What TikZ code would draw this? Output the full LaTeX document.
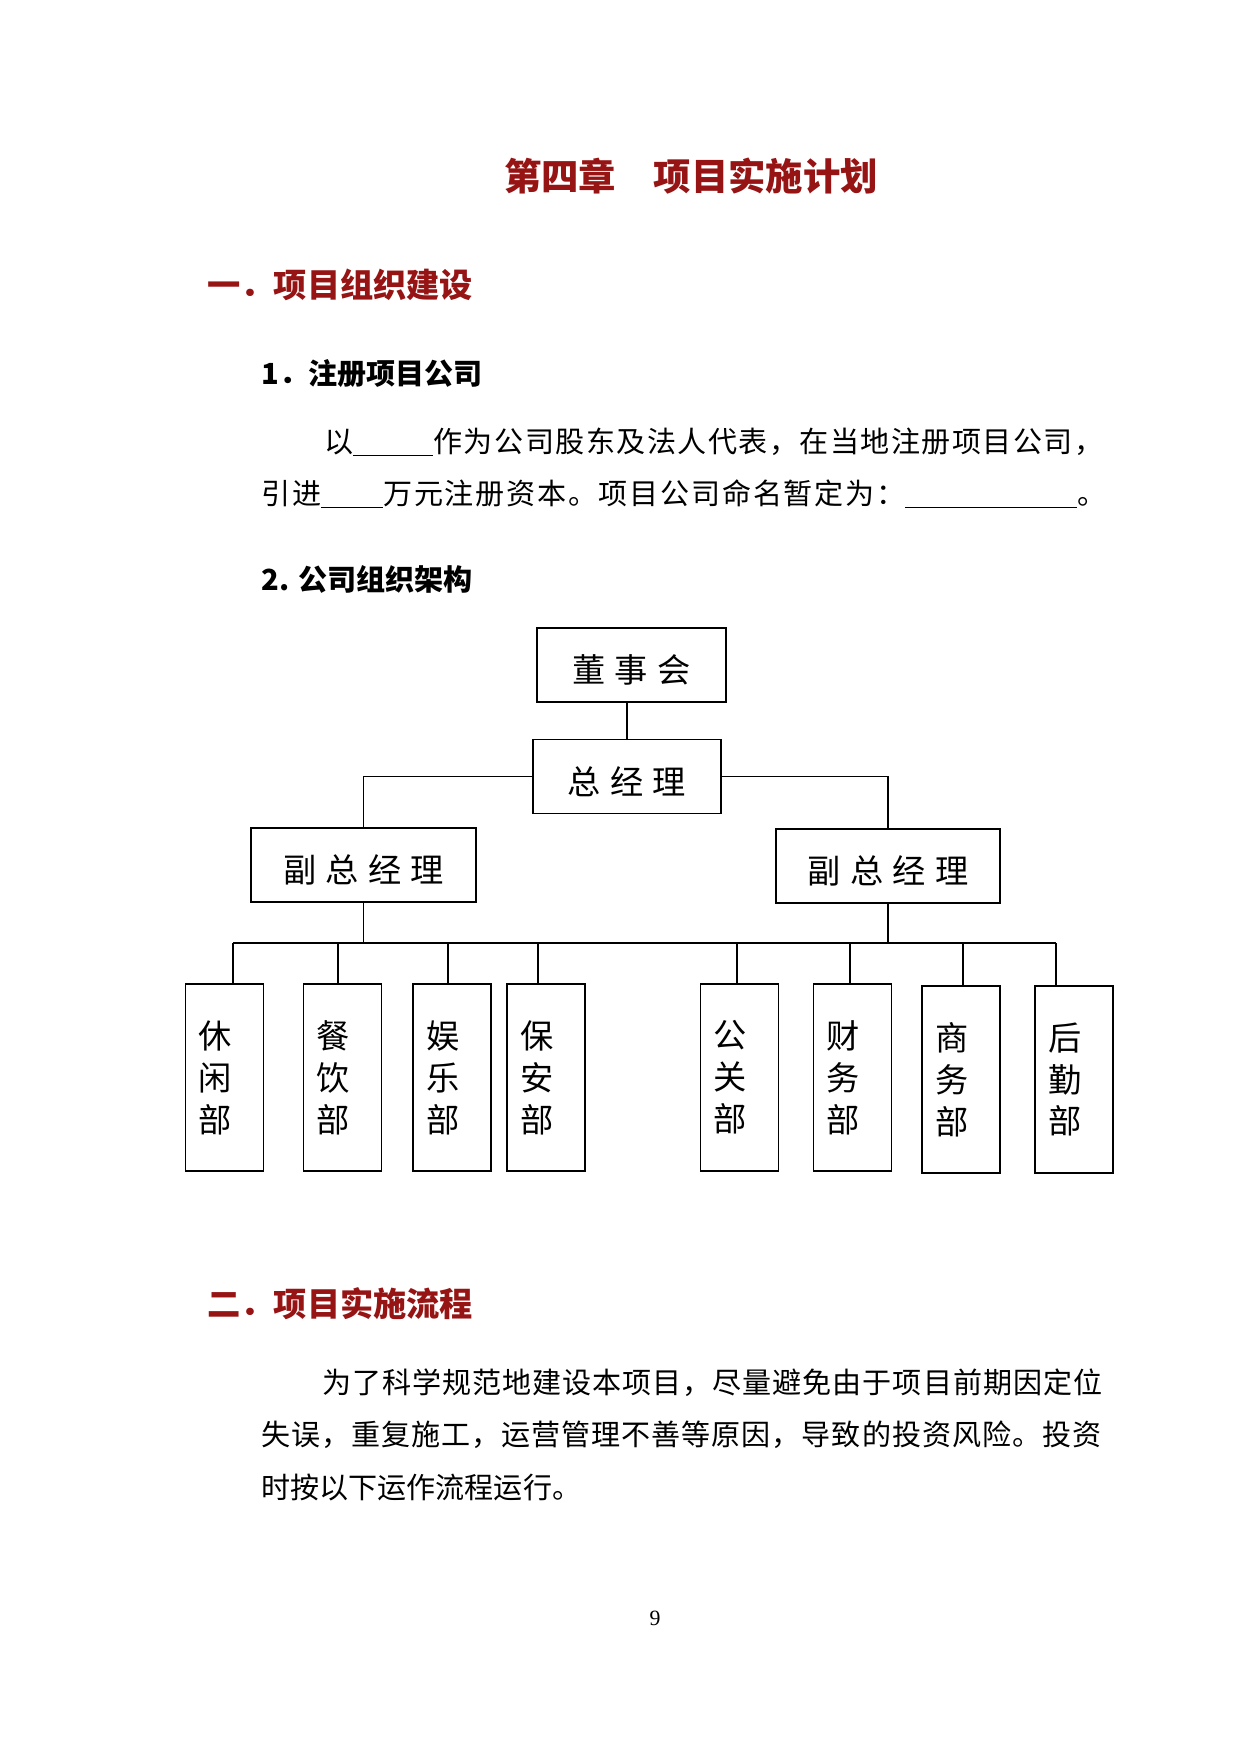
\documentclass[tikz,border=0pt]{standalone}
\usepackage{fontspec}
\setmainfont{Noto Sans CJK SC}
\newfontfamily\numfont{Liberation Serif}
\usepackage{tikz}
\usetikzlibrary{positioning, calc}
\definecolor{TitleRed}{RGB}{150,20,20}
\newlength\pxu
\setlength\pxu{0.16925mm}
\newcommand\sz[2]{\fontsize{#1}{#2}\selectfont}
\newcommand\ls[1]{\addfontfeature{LetterSpace=#1}}

\begin{document}
\begin{tikzpicture}[x=0.16925mm, y=-0.16925mm, font=\sz{14pt}{17pt},
	txt/.style={inner sep=0pt, anchor=west},
	chief/.style={draw, line width=0.9pt, inner sep=0pt, minimum height=74\pxu,
		text height=17pt, text depth=0pt, font=\sz{16pt}{19pt}\ls{28}},
	dept/.style={draw, line width=0.9pt, minimum width=78\pxu, minimum height=187\pxu,
		inner ysep=0pt, inner xsep=13\pxu, text width=52\pxu, align=left,
		font=\sz{16pt}{20.2pt}},
	link/.style={line width=0.6pt},
	bus/.style={line width=1.2pt}]
	\useasboundingbox (0,0) rectangle (1241,1754);
	% titulos
	\node[inner sep=0pt, font=\sz{18pt}{22pt}\bfseries, text=TitleRed] (title) at (691,176) {第四章\quad 项目实施计划};
	\node[txt, font=\sz{16pt}{20pt}\bfseries, text=TitleRed] (h1) at (207,285) {一．项目组织建设};
	\node[txt, font=\sz{14pt}{17pt}\bfseries] (s1) at (261,374) {1．注册项目公司};
	\node[txt, font=\sz{14pt}{17pt}\ls{5}] (p1a) at (324,442) {以\underline{\hspace{80\pxu}}作为公司股东及法人代表，在当地注册项目公司，};
	\node[txt, font=\sz{14pt}{17pt}\ls{6}] (p1b) at (261,494) {引进\underline{\hspace{62\pxu}}万元注册资本。项目公司命名暂定为：\underline{\hspace{172\pxu}}。};
	\node[txt, font=\sz{14pt}{17pt}\bfseries] (s2) at (261,579) {2. 公司组织架构};
	% organigrama
	\node[chief, minimum width=189\pxu] (dsh) at (631.5,665) {董事会};
	\node[chief, minimum width=188\pxu] (zjl) at (627,776.5) {总经理};
	\node[chief, minimum width=225\pxu] (fz1) at (363.5,865) {副总经理};
	\node[chief, minimum width=224\pxu] (fz2) at (888,866) {副总经理};
	\coordinate (bus) at (0,943);
	\foreach \nm/\cx/\cy/\bx/\txt in {xx/224.5/1077.5/233/休\\闲\\部, cy/342.5/1077.5/338/餐\\饮\\部,
		yl/452/1077.5/448/娱\\乐\\部, ba/546/1077.5/538/保\\安\\部,
		gg/739.5/1077.5/737/公\\关\\部, cw/852.5/1077.5/850/财\\务\\部,
		sw/961/1079.5/963/商\\务\\部, hq/1074/1079.5/1056/后\\勤\\部}
	{
		\node[dept] (\nm) at (\cx,\cy) {\txt};
		\coordinate (b-\nm) at (\bx,943);
		\draw[link] (b-\nm) -- (b-\nm |- \nm.north);
	}
	\draw[link] (zjl.north) -- (zjl.north |- dsh.south);
	\draw[link] (zjl.west) -| (fz1.north);
	\draw[link] (zjl.east) -| (fz2.north);
	\draw[link] (fz1.south) -- (fz1.south |- bus);
	\draw[link] (fz2.south) -- (fz2.south |- bus);
	\draw[bus] (b-xx) -- (b-hq);
	% segunda parte
	\node[txt, font=\sz{16pt}{20pt}\bfseries, text=TitleRed] (h2) at (207,1304) {二．项目实施流程};
	\node[txt, font=\sz{14pt}{17pt}\ls{3.3}] (p2a) at (322,1383) {为了科学规范地建设本项目，尽量避免由于项目前期因定位};
	\node[txt, font=\sz{14pt}{17pt}\ls{3.3}] (p2b) at (261,1435) {失误，重复施工，运营管理不善等原因，导致的投资风险。投资};
	\node[txt, font=\sz{14pt}{17pt}] (p2c) at (261,1487) {时按以下运作流程运行。};
	\node[inner sep=0pt, font=\numfont\sz{10.5pt}{12pt}] (pg) at (655,1618) {9};
\end{tikzpicture}
\end{document}
